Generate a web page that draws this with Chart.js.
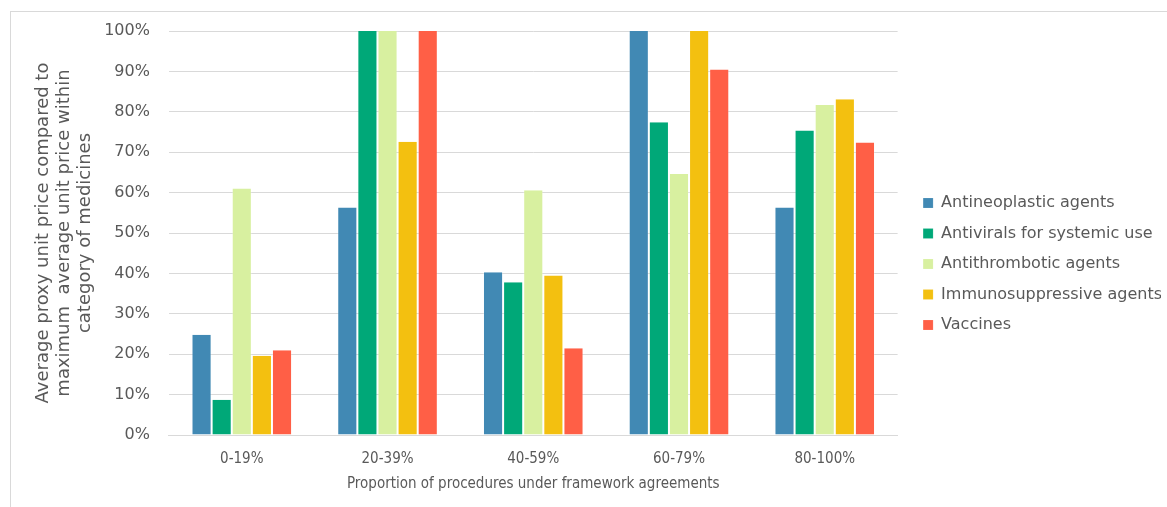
<!DOCTYPE html>
<html>
<head>
<meta charset="utf-8">
<script src="https://cdn.jsdelivr.net/npm/chart.js@4"></script>
<style>
  html, body { margin: 0; padding: 0; background: #fff; }
  .wrap { position: relative; width: 1167px; height: 507px; overflow: hidden; }
  .frame { position: absolute; left: 10px; top: 11px; width: 1200px; height: 600px;
           border-top: 1px solid #d9d9d9; border-left: 1px solid #d9d9d9; }
  canvas { position: absolute; left: 0; top: 0; }
</style>
</head>
<body>
<div class="wrap">
  <div class="frame"></div>
  <canvas id="myChart" width="1167" height="507"></canvas>
</div>
<script>
// categories and series (percent of max unit price)
const categories = ['0-19%', '20-39%', '40-59%', '60-79%', '80-100%'];
const antineoplastic = [24.8, 56.3, 40.3, 100, 56.3];
const antivirals = [8.7, 100, 37.8, 77.4, 75.4];
const antithrombotic = [61.0, 100, 60.6, 64.6, 81.7];
const immunosuppressive = [19.6, 72.6, 39.5, 100, 83.1];
const vaccines = [21.0, 100, 21.5, 90.5, 72.4];
const seriesNames = ['Antineoplastic agents', 'Antivirals for systemic use', 'Antithrombotic agents', 'Immunosuppressive agents', 'Vaccines'];
const seriesColors = ['#4189b4', '#00a878', '#d8f0a0', '#f3c010', '#ff5f46'];
const yTicks = [0, 10, 20, 30, 40, 50, 60, 70, 80, 90, 100];

const textColor = '#595959';
const gridColor = '#d9d9d9';

// push legend items a bit right of the plot, like the original
const legendShift = {
  id: 'legendShift',
  afterUpdate(chart) {
    chart.legend.left += 11;
    chart.legend.top += 2;
    chart.legend.bottom += 2;
  }
};

const ctx = document.getElementById('myChart');
const allSeries = [antineoplastic, antivirals, antithrombotic, immunosuppressive, vaccines];

let chart = new Chart(ctx, {
  type: 'bar',
  data: {
    labels: categories,
    datasets: allSeries.map((vals, i) => ({
      label: seriesNames[i],
      data: vals,
      backgroundColor: seriesColors[i],
      borderColor: 'rgba(255,255,255,0.25)',
      borderWidth: {left: 1, right: 1, top: 0, bottom: 0},
      borderSkipped: false,
      categoryPercentage: 0.69,
      barPercentage: 1,
    }))
  },
  options: {
    responsive: false,
    animation: false,
    layout: {
      padding: {left: 32.5, top: 31, right: 6, bottom: 14}
    },
    scales: {
      y: {
        min: 0,
        max: 100,
        afterBuildTicks: axis => { axis.ticks = yTicks.map(v => ({value: v})); },
        border: {display: false},
        grid: {color: gridColor, lineWidth: 1, drawTicks: false},
        ticks: {
          color: textColor,
          padding: 19,
          font: {family: 'DejaVu Sans', size: 16},
          callback: v => v + '%'
        },
        title: {
          display: true,
          text: ['Average proxy unit price compared to', 'maximum  average unit price within', 'category of medicines'],
          color: textColor,
          font: {family: 'DejaVu Sans', size: 18, lineHeight: 1.17},
          padding: {top: 0, bottom: -10.5}
        }
      },
      x: {
        grid: {display: false, drawTicks: false},
        border: {display: true, color: gridColor, width: 1},
        ticks: {
          color: textColor,
          padding: 15,
          font: {family: 'DejaVu Sans Condensed', size: 15}
        },
        title: {
          display: true,
          text: 'Proportion of procedures under framework agreements',
          color: textColor,
          font: {family: 'DejaVu Sans Condensed', size: 15},
          padding: {top: -8, bottom: 0}
        }
      }
    },
    plugins: {
      tooltip: {enabled: false},
      legend: {
        position: 'right',
        align: 'center',
        labels: {
          color: textColor,
          boxWidth: 10,
          boxHeight: 10,
          padding: 14.5,
          font: {family: 'DejaVu Sans', size: 16}
        }
      }
    }
  },
  plugins: [legendShift]
});
</script>
</body>
</html>
